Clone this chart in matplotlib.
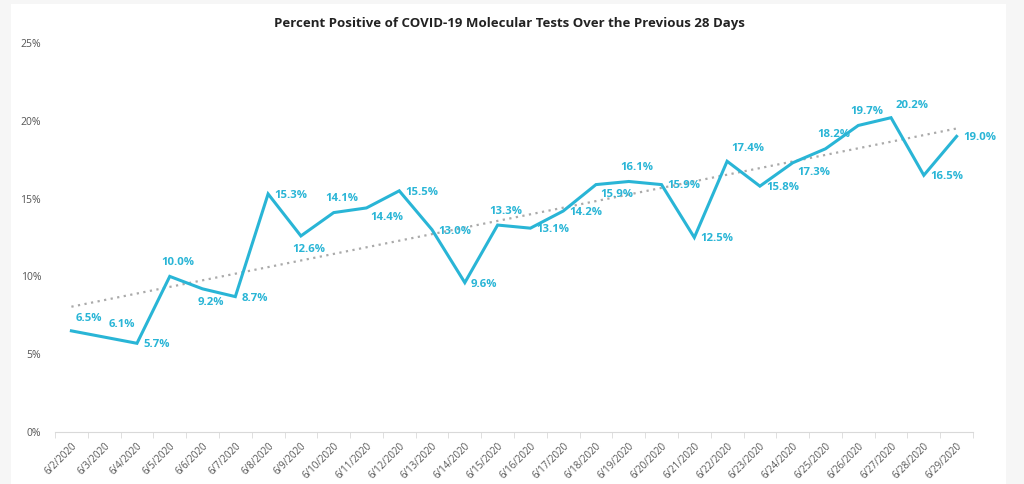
import matplotlib
matplotlib.use("Agg")
import matplotlib.pyplot as plt
import numpy as np
from matplotlib.patches import Rectangle

dates = ["6/%d/2020" % d for d in range(2, 30)]
values = [6.5, 6.1, 5.7, 10.0, 9.2, 8.7, 15.3, 12.6, 14.1, 14.4, 15.5, 13.0, 9.6, 13.3,
          13.1, 14.2, 15.9, 16.1, 15.9, 12.5, 17.4, 15.8, 17.3, 18.2, 19.7, 20.2, 16.5, 19.0]
# where each value label sits relative to its point
label_pos = ["ar", "ar", "r", "a", "b", "r", "r", "b", "a", "br", "r", "r", "r", "a",
             "r", "r", "br", "a", "r", "r", "ar", "r", "br", "a", "a", "ar", "r", "r"]

blue = "#29b5d6"
plt.rcParams['font.family'] = ['Open Sans', 'DejaVu Sans']

fig = plt.figure(figsize=(10.24, 4.84), dpi=100, facecolor="#f6f6f6")
fig.patches.append(Rectangle((11 / 1024, 0), 995 / 1024, 480 / 484, transform=fig.transFigure,
                             facecolor="white", edgecolor="none", zorder=-10))
ax = fig.add_axes([55 / 1024, 52 / 484, 918 / 1024, 389 / 484])
ax.set_facecolor("none")

x = np.arange(len(values))
ax.plot(x, values, color=blue, lw=2.2, zorder=3, solid_joinstyle="miter")

k, b = np.polyfit(x, values, 1)
ax.plot(x, k * x + b, color="#aaaaaa", lw=1.6, ls=(0, (1, 2)), zorder=2)

offsets = {
    "r": ((4.5, -1), "left", "center"),
    "a": ((6, 6), "center", "bottom"),
    "b": ((6, -6), "center", "top"),
    "ar": ((3, 5), "left", "bottom"),
    "br": ((3, -3), "left", "top"),
}
for xi, v, p in zip(x, values, label_pos):
    off, ha, va = offsets[p]
    ax.annotate("%.1f%%" % v, (xi, v), xytext=off, textcoords="offset points",
                ha=ha, va=va, color=blue, fontsize=8.2, fontweight="bold", zorder=4)

ax.set_xlim(-0.5, len(values) - 0.5)
ax.set_ylim(0, 25)
ax.set_yticks([0, 5, 10, 15, 20, 25])
ax.set_yticklabels(["%d%%" % t for t in [0, 5, 10, 15, 20, 25]])
ax.set_xticks(x)
ax.set_xticklabels(dates, rotation=45, ha="right", rotation_mode="anchor")
ax.set_xticks(np.arange(-0.5, len(values)), minor=True)
ax.tick_params(axis="x", which="major", length=0, labelsize=7, labelcolor="#555555", pad=6)
ax.tick_params(axis="x", which="minor", length=4, color="#d9d9d9")
ax.tick_params(axis="y", length=0, labelsize=7.5, labelcolor="#555555", pad=10)

for s in ["top", "right", "left"]:
    ax.spines[s].set_visible(False)
ax.spines["bottom"].set_color("#d9d9d9")

fig.text(509 / 1024, 1 - 23 / 484, "Percent Positive of COVID-19 Molecular Tests Over the Previous 28 Days",
         ha="center", va="center", fontsize=9.5, fontweight="bold", color="#222222")

fig.savefig("out.png", dpi=100, facecolor=fig.get_facecolor())
